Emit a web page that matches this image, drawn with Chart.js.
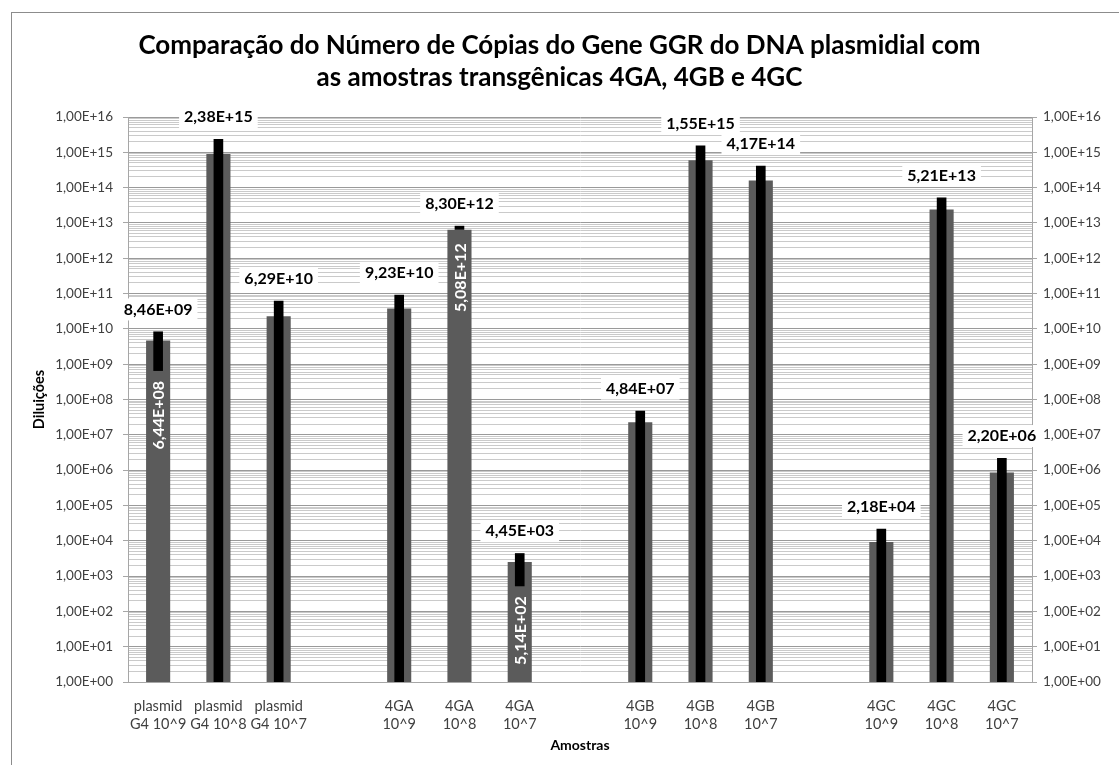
<!DOCTYPE html>
<html>
<head>
<meta charset="utf-8">
<script src="https://cdn.jsdelivr.net/npm/chart.js@4.4.1/dist/chart.umd.min.js"></script>
<style>
  html, body { margin: 0; padding: 0; background: #fff; }
  #wrap { width: 1119px; height: 765px; position: relative; }
</style>
</head>
<body>
<div id="wrap"><canvas id="copiesChart"></canvas></div>
<script>
// categories (empty slots separate the groups)
const categories = [
  ['plasmid', 'G4 10^9'], ['plasmid', 'G4 10^8'], ['plasmid', 'G4 10^7'], '',
  ['4GA', '10^9'], ['4GA', '10^8'], ['4GA', '10^7'], '',
  ['4GB', '10^9'], ['4GB', '10^8'], ['4GB', '10^7'], '',
  ['4GC', '10^9'], ['4GC', '10^8'], ['4GC', '10^7']
];
// wide gray bars
const grayValues = [4.7e9, 8.9e14, 2.26e10, null, 3.78e10, 6.4e12, 2.5e3, null, 2.26e7, 6.0e14, 1.6e14, null, 9.2e3, 2.4e13, 8.5e5];
// narrow black bars (labelled values)
const blackValues = [8.46e9, 2.38e15, 6.29e10, null, 9.23e10, 8.30e12, 4.45e3, null, 4.84e7, 1.55e15, 4.17e14, null, 2.18e4, 5.21e13, 2.20e6];
// where a black bar does not start at the axis (visible bottom)
const blackLow = [6.44e8, null, null, null, null, 6.4e12, 5.14e2, null, null, null, null, null, null, null, null];
// white rotated labels inside the gray bars
const innerValues = [6.44e8, null, null, null, null, 5.08e12, 5.14e2, null, null, null, null, null, null, null, null];

const FONT = 'Lato';

function fmt(v) {
  const [m, e] = v.toExponential(2).split('e');
  const n = parseInt(e, 10);
  return m.replace('.', ',') + 'E' + (n < 0 ? '-' : '+') + String(Math.abs(n)).padStart(2, '0');
}
function isDecade(v) {
  const l = Math.log10(v);
  return Math.abs(l - Math.round(l)) < 1e-9;
}
function decadeTicks(scale) {
  const t = [];
  for (let e = 0; e < 16; e++) {
    for (let m = 1; m < 10; m++) t.push({ value: m * Math.pow(10, e) });
  }
  t.push({ value: 1e16 });
  scale.ticks = t;
}

const blackData = blackValues.map((v, i) => (v != null && blackLow[i] != null) ? [blackLow[i], v] : v);

const frame = {
  id: 'frame',
  beforeDraw(chart) {
    const ctx = chart.ctx;
    ctx.save();
    ctx.fillStyle = '#fff';
    ctx.fillRect(0, 0, chart.width, chart.height);
    ctx.strokeStyle = '#8c8c8c';
    ctx.lineWidth = 1;
    ctx.strokeRect(11.5, 12.5, 1120, 770);
    ctx.restore();
  }
};

const barLabels = {
  id: 'barLabels',
  afterDatasetsDraw(chart) {
    const ctx = chart.ctx;
    const y = chart.scales.y;
    const meta = chart.getDatasetMeta(1);
    ctx.save();
    ctx.font = 'bold 16px ' + FONT;
    ctx.textAlign = 'center';
    ctx.textBaseline = 'middle';
    blackValues.forEach((v, i) => {
      if (v == null) return;
      const x = meta.data[i].x;
      const cy = y.getPixelForValue(v) - 22;
      const txt = fmt(v);
      const w = ctx.measureText(txt).width + 10;
      ctx.fillStyle = '#fff';
      ctx.fillRect(x - w / 2, cy - 11, w, 22);
      ctx.fillStyle = '#000';
      ctx.fillText(txt, x, cy);
    });
    innerValues.forEach((v, i) => {
      if (v == null) return;
      const x = meta.data[i].x;
      const yy = y.getPixelForValue(v) + 10;
      ctx.save();
      ctx.translate(x, yy);
      ctx.rotate(-Math.PI / 2);
      ctx.textAlign = 'right';
      ctx.fillStyle = '#fff';
      ctx.fillText(fmt(v), 0, 1);
      ctx.restore();
    });
    ctx.restore();
  }
};

const yTicks = {
  autoSkip: false,
  font: { family: FONT, size: 13.5 },
  color: '#404040',
  callback: (v) => isDecade(v) ? fmt(v) : ''
};

new Chart('copiesChart', {
  type: 'bar',
  data: {
    labels: categories,
    datasets: [
      {
        data: grayValues,
        backgroundColor: '#5b5b5b',
        barPercentage: 0.4,
        categoryPercentage: 1,
        grouped: false,
        order: 2
      },
      {
        data: blackData,
        backgroundColor: '#000',
        barPercentage: 0.16,
        categoryPercentage: 1,
        grouped: false,
        order: 1
      }
    ]
  },
  plugins: [frame, barLabels],
  options: {
    responsive: true,
    maintainAspectRatio: false,
    animation: false,
    layout: { padding: { left: 12, right: 12, top: 0, bottom: 10 } },
    plugins: {
      legend: { display: false },
      tooltip: { enabled: false },
      title: {
        display: true,
        text: ['Comparação do Número de Cópias do Gene GGR do DNA plasmidial com',
               'as amostras transgênicas 4GA, 4GB e 4GC'],
        color: '#000',
        font: { family: FONT, size: 26, weight: 'bold', lineHeight: 1.25 },
        padding: { top: 29, bottom: 23 }
      }
    },
    scales: {
      x: {
        grid: { display: false },
        border: { color: '#a6a6a6' },
        ticks: {
          autoSkip: false,
          maxRotation: 0,
          padding: 7,
          font: { family: FONT, size: 14.5, lineHeight: 1.25 },
          color: '#404040'
        },
        title: {
          display: true,
          text: 'Amostras',
          color: '#000',
          font: { family: FONT, size: 14, weight: 'bold', lineHeight: 1.3 },
          padding: { top: 0, bottom: 0 }
        },
        afterFit(scale) { scale.height = 73; }
      },
      y: {
        type: 'logarithmic',
        position: 'left',
        min: 1,
        max: 1e16,
        afterBuildTicks: decadeTicks,
        grid: {
          color: (c) => isDecade(c.tick.value) ? '#9a9a9a' : '#cacaca',
          tickColor: (c) => isDecade(c.tick.value) ? '#a6a6a6' : 'rgba(0,0,0,0)',
          tickLength: 5
        },
        border: { color: '#a6a6a6' },
        ticks: Object.assign({ padding: 10 }, yTicks),
        title: {
          display: true,
          text: 'Diluições',
          color: '#000',
          font: { family: FONT, size: 14.5, weight: 'bold', lineHeight: 1.3 },
          padding: { top: 18, bottom: 0 }
        },
        afterFit(scale) { scale.width = 116; }
      },
      y2: {
        type: 'logarithmic',
        position: 'right',
        min: 1,
        max: 1e16,
        afterBuildTicks: decadeTicks,
        grid: {
          drawOnChartArea: false,
          tickColor: (c) => isDecade(c.tick.value) ? '#a6a6a6' : 'rgba(0,0,0,0)',
          tickLength: 5
        },
        border: { color: '#a6a6a6' },
        ticks: Object.assign({ padding: 6 }, yTicks),
        afterFit(scale) { scale.width = 75; }
      }
    }
  }
});
</script>
</body>
</html>
